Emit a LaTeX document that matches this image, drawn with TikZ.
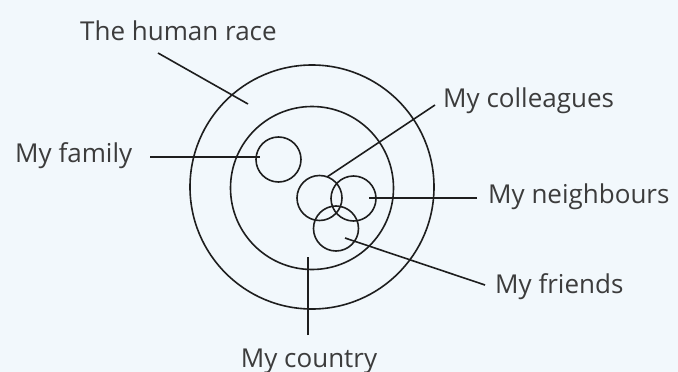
\documentclass[tikz,border=0pt]{standalone}
\usepackage{fontspec}
\setmainfont{Open Sans}
\begin{document}
\begin{tikzpicture}[x=1pt,y=-1pt,
  ring/.style={draw=linec,line width=1.6pt,circle,minimum size=#1,inner sep=0pt},
  conn/.style={draw=linec,line width=1.6pt},
  lbl/.style={text=textc,inner sep=0pt,font=\fontsize{26}{30}\selectfont}]
\definecolor{linec}{HTML}{1E1E1E}
\definecolor{textc}{HTML}{3C3C3C}
\definecolor{bgc}{HTML}{F2F8FC}
\fill[bgc] (0,0) rectangle (678,372);
\useasboundingbox (0,0) rectangle (678,372);
% circles
\node[ring=244pt] (race) at (312,187) {};
\node[ring=163pt] (country) at (312,188) {};
\node[ring=45pt] (family) at (278.5,159.5) {};
\node[ring=45pt] (colleagues) at (319.5,198) {};
\node[ring=45pt] (neighbours) at (353.5,198.5) {};
\node[ring=45pt] (friends) at (336,228.5) {};
% labels
\node[lbl,anchor=base west] (lrace) at (80,41) {The human race};
\node[lbl,anchor=base west] (lfamily) at (15,162) {My family};
\node[lbl,anchor=base west] (lcoll) at (443,107) {My colleagues};
\node[lbl,anchor=base west] (lneigh) at (488,203) {My neighbours};
\node[lbl,anchor=base west] (lfriends) at (495,293) {My friends};
\node[lbl,anchor=base] (lcountry) at (309,367) {My country};
% connector ends
\coordinate (a1) at (158,53);  \coordinate (a2) at (248,104);
\coordinate (b1) at (150,157); \coordinate (b2) at (260,157);
\coordinate (c1) at (435,105); \coordinate (c2) at (327,177);
\coordinate (d1) at (477,198); \coordinate (d2) at (369,198);
\coordinate (e1) at (485,285); \coordinate (e2) at (345,238);
\coordinate (f1) at (308,335); \coordinate (f2) at (308,257);
\draw[conn] (a1) -- (a2);
\draw[conn] (b1) -- (b2);
\draw[conn] (c1) -- (c2);
\draw[conn] (d1) -- (d2);
\draw[conn] (e1) -- (e2);
\draw[conn] (f1) -- (f2);
\end{tikzpicture}
\end{document}
